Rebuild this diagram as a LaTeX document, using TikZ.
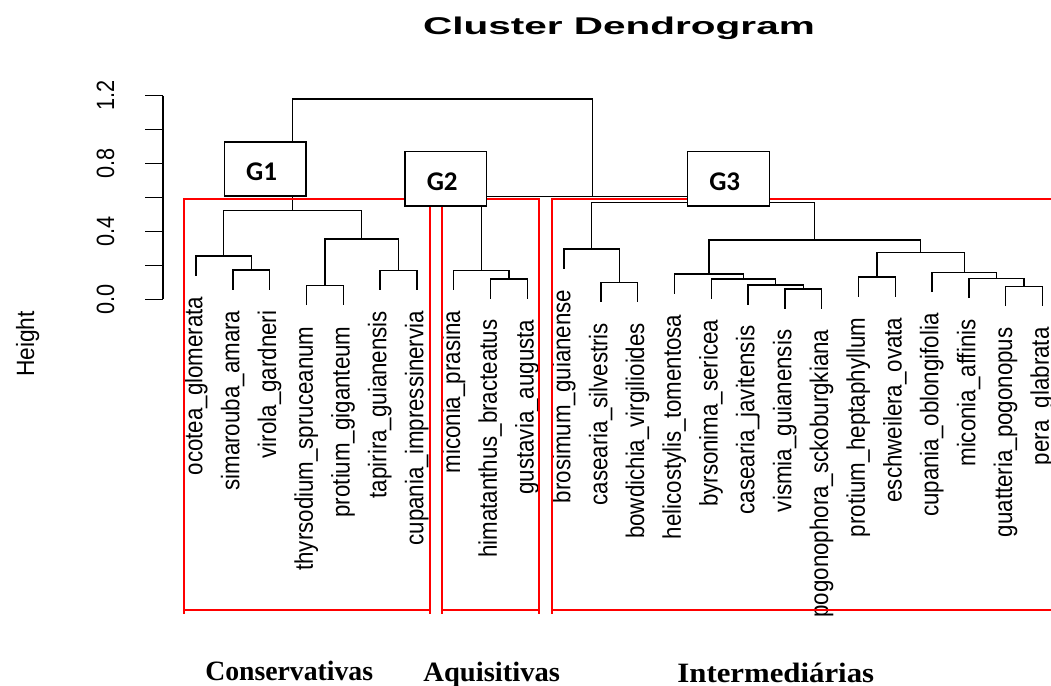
\documentclass[tikz,border=0pt]{standalone}
\usepackage{fontspec}
\usepackage{graphicx}
\setmainfont{Liberation Sans}
\newfontfamily\serifbf{Liberation Serif}
\newfontfamily\calibfont{Carlito}
\tikzset{
  dend/.style={line width=1.4pt, black},
  redrect/.style={line width=2pt, red},
  leaflab/.style={rotate=90, anchor=east, inner sep=0pt,
    font=\fontsize{25.5}{25.5}\selectfont, text height=18.2pt, text depth=5.3pt},
  ticklab/.style={rotate=90, anchor=base, inner sep=0pt,
    font=\fontsize{25}{25}\selectfont},
  gbox/.style={draw, line width=1.5pt, fill=white, inner sep=0pt},
  glabel/.style={anchor=base, inner sep=0pt, font=\calibfont\bfseries\fontsize{27}{27}\selectfont},
  grouplab/.style={anchor=base, inner sep=0pt, font=\serifbf\bfseries\fontsize{28}{28}\selectfont},
}
\begin{document}
\begin{tikzpicture}[x=1pt,y=-1pt]
\useasboundingbox (0,0) rectangle (1051,685);
% title
\node[anchor=base, inner sep=0pt, font=\bfseries\fontsize{24.2}{24.2}\selectfont] (title) at (619,35) {\scalebox{1.674}[1]{Cluster Dendrogram}};
% y axis
\draw[dend] (163,95.7) -- (163,299.3);
\foreach \k in {0,...,6} \draw[dend] (145,299.3-33.93*\k) -- (163,299.3-33.93*\k);
\foreach \k/\l in {0/0.0,2/0.4,4/0.8,6/1.2}
  \node[ticklab] (y\k) at (114,299.3-33.93*\k) {\scalebox{0.87}[1]{\l}};
\node[ticklab] (ylab) at (34,344) {\scalebox{0.91}[1]{Height}};
% leaves
\foreach \i/\x/\py/\t in {
 0/196/256/ocotea\_glomerata,
 1/232.8/270/simarouba\_amara,
 2/269.6/270/virola\_gardneri,
 3/306.4/285.7/thyrsodium\_spruceanum,
 4/343.2/285.7/protium\_giganteum,
 5/380/270.3/tapirira\_guianensis,
 6/416.8/270.3/cupania\_impressinervia,
 7/453.6/270.3/miconia\_prasina,
 8/490.4/279/himatanthus\_bracteatus,
 9/527.2/279/gustavia\_augusta,
 10/564/249/brosimum\_guianense,
 11/600.8/282.3/casearia\_silvestris,
 12/637.6/282.3/bowdichia\_virgilioides,
 13/674.4/274/helicostylis\_tomentosa,
 14/711.2/279/byrsonima\_sericea,
 15/748/285/casearia\_javitensis,
 16/784.8/289/vismia\_guianensis,
 17/821.6/289/pogonophora\_sckoburgkiana,
 18/858.4/277/protium\_heptaphyllum,
 19/895.2/277/eschweilera\_ovata,
 20/932/272.7/cupania\_oblongifolia,
 21/968.8/278.7/miconia\_affinis,
 22/1005.6/286.7/guatteria\_pogonopus,
 23/1042.4/286.7/pera\_glabrata}{
  \coordinate (L\i) at (\x,\py+19.5);
  \node[leaflab] (T\i) at (\x,\py+40.5) {\scalebox{0.875}[1]{\t}};
}
% merges
\coordinate (M1) at (251.2,270);
\coordinate (M2) at (223.6,256);
\coordinate (M3) at (324.8,285.7);
\coordinate (M4) at (398.4,270.3);
\coordinate (M5) at (361.6,239);
\coordinate (M6) at (292.6,210.7);
\coordinate (M7) at (508.8,279);
\coordinate (M8) at (481.2,270.3);
\coordinate (M9) at (619.2,282.3);
\coordinate (M10) at (591.6,249);
\coordinate (M11) at (803.2,289);
\coordinate (M12) at (775.6,285);
\coordinate (M13) at (743.4,279);
\coordinate (M14) at (708.9,274);
\coordinate (M15) at (876.8,277);
\coordinate (M16) at (1024,286.7);
\coordinate (M17) at (996.4,278.7);
\coordinate (M18) at (964.2,272.7);
\coordinate (M19) at (920.5,252.3);
\coordinate (M20) at (814.7,240);
\coordinate (M21) at (703.2,202.7);
\coordinate (M22) at (592.2,196.3);
\coordinate (M23) at (442.4,99);
\draw[dend] (L1) |- (M1) -| (L2);
\draw[dend] (L0) |- (M2) -| (M1);
\draw[dend] (L3) |- (M3) -| (L4);
\draw[dend] (L5) |- (M4) -| (L6);
\draw[dend] (M3) |- (M5) -| (M4);
\draw[dend] (M2) |- (M6) -| (M5);
\draw[dend] (L8) |- (M7) -| (L9);
\draw[dend] (L7) |- (M8) -| (M7);
\draw[dend] (L11) |- (M9) -| (L12);
\draw[dend] (L10) |- (M10) -| (M9);
\draw[dend] (L16) |- (M11) -| (L17);
\draw[dend] (L15) |- (M12) -| (M11);
\draw[dend] (L14) |- (M13) -| (M12);
\draw[dend] (L13) |- (M14) -| (M13);
\draw[dend] (L18) |- (M15) -| (L19);
\draw[dend] (L22) |- (M16) -| (L23);
\draw[dend] (L21) |- (M17) -| (M16);
\draw[dend] (L20) |- (M18) -| (M17);
\draw[dend] (M15) |- (M19) -| (M18);
\draw[dend] (M14) |- (M20) -| (M19);
\draw[dend] (M10) |- (M21) -| (M20);
\draw[dend] (M8) |- (M22) -| (M21);
\draw[dend] (M6) |- (M23) -| (M22);
% red rectangles
\draw[redrect] (184,199) rectangle (430,610);
\draw[redrect] (442,199) rectangle (539,610);
\draw[redrect] (1053,199) -- (552,199) -- (552,610) -- (1053,610);
\foreach \xx in {184,430,442,539,552} \draw[redrect] (\xx,610) -- (\xx,614);
% group boxes
\node[gbox, minimum width=81.3pt, minimum height=54pt] (B1) at (265.35,169) {};
\node[gbox, minimum width=81.7pt, minimum height=54.3pt] (B2) at (445.85,178.85) {};
\node[gbox, minimum width=82pt, minimum height=54.3pt] (B3) at (728.3,178.85) {};
\node[glabel] (G1) at (261.5,180.7) {G1};
\node[glabel] (G2) at (442.2,190) {G2};
\node[glabel] (G3) at (724.7,190.7) {G3};
% group names
\node[grouplab] (c1) at (289.2,680) {\scalebox{0.99}[1]{Conservativas}};
\node[grouplab] (c2) at (491.7,681) {\scalebox{1.02}[1]{Aquisitivas}};
\node[grouplab] (c3) at (775.8,682) {\scalebox{1.1}[1]{Intermediárias}};
\end{tikzpicture}
\end{document}
